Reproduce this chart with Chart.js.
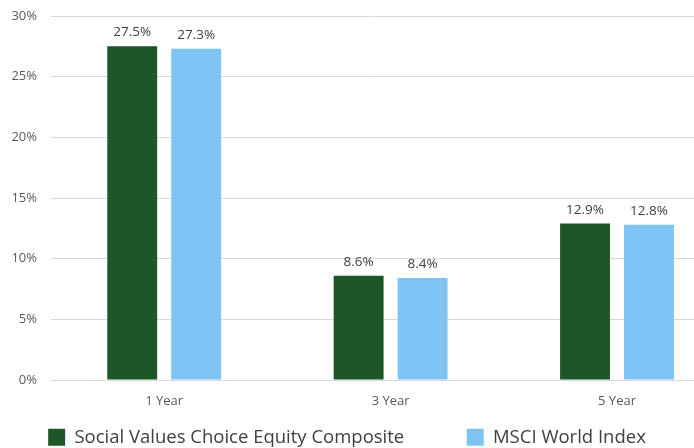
<!DOCTYPE html>
<html>
<head>
<meta charset="utf-8">
<script src="https://cdn.jsdelivr.net/npm/chart.js@4/dist/chart.umd.min.js"></script>
<style>
  html, body { margin: 0; padding: 0; background: #fff; overflow: hidden; }
  #wrap { width: 694px; height: 448px; position: relative; }
</style>
</head>
<body>
<div id="wrap"><canvas id="chart"></canvas></div>
<script>
'use strict';

const categories = ['1 Year', '3 Year', '5 Year'];
const socialValues = [27.5, 8.6, 12.9];
const msciValues = [27.3, 8.4, 12.8];
const seriesNames = ['Social Values Choice Equity Composite', 'MSCI World Index'];
const yTicks = [0, 5, 10, 15, 20, 25, 30];

const FONT = '"Open Sans", "Noto Sans", sans-serif';

// value labels above every bar
const barLabels = {
  id: 'barLabels',
  afterDatasetsDraw(chart) {
    const ctx = chart.ctx;
    ctx.save();
    ctx.font = '13.5px ' + FONT;
    ctx.fillStyle = '#404040';
    ctx.textAlign = 'center';
    ctx.textBaseline = 'bottom';
    chart.data.datasets.forEach((ds, i) => {
      chart.getDatasetMeta(i).data.forEach((bar, j) => {
        ctx.fillText(ds.data[j].y.toFixed(1) + '%', bar.x, bar.y - 7);
      });
    });
    ctx.restore();
  }
};

const toPoints = vals => vals.map((v, i) => ({ x: i, y: v }));

new Chart(document.getElementById('chart'), {
  type: 'bar',
  data: {
    datasets: [
      { label: seriesNames[0], data: toPoints(socialValues), backgroundColor: '#1e5628' },
      { label: seriesNames[1], data: toPoints(msciValues), backgroundColor: '#7dc3f4' }
    ]
  },
  plugins: [barLabels],
  options: {
    responsive: true,
    maintainAspectRatio: false,
    animation: false,
    categoryPercentage: 0.565,
    barPercentage: 0.78,
    layout: { padding: { top: 16, right: 0, bottom: 0, left: 0 } },
    plugins: {
      tooltip: { enabled: false },
      legend: {
        position: 'bottom',
        maxHeight: 20,
        labels: {
          font: { family: FONT, size: 18.5 },
          color: '#404040',
          boxWidth: 17,
          boxHeight: 17,
          padding: 0,
          generateLabels(chart) {
            return chart.data.datasets.map((ds, i) => ({
              text: i === 0 ? ds.label + '\u00a0'.repeat(13) : ds.label,
              fillStyle: ds.backgroundColor,
              strokeStyle: ds.backgroundColor,
              lineWidth: 0,
              datasetIndex: i,
              fontColor: '#404040'
            }));
          }
        }
      }
    },
    scales: {
      x: {
        type: 'linear',
        offset: false,
        min: -0.5,
        max: 2.34,
        grid: { display: false },
        border: { display: false },
        afterBuildTicks(scale) {
          scale.ticks = categories.map((c, i) => ({ value: i }));
        },
        afterFit(scale) { scale.height = 48; },
        ticks: {
          color: '#595959',
          font: { family: FONT, size: 13 },
          padding: 5,
          callback: v => categories[v]
        }
      },
      y: {
        min: 0,
        max: 30,
        afterBuildTicks(scale) {
          scale.ticks = yTicks.map(v => ({ value: v }));
        },
        afterFit(scale) {
          scale.width = 51;
          scale.paddingTop = 0;
          scale.paddingBottom = 0;
        },
        grid: { color: '#d9d9d9', drawTicks: false },
        border: { display: false },
        ticks: {
          color: '#595959',
          font: { family: FONT, size: 13 },
          padding: 14,
          callback: v => v + '%'
        }
      }
    }
  }
});
</script>
</body>
</html>
